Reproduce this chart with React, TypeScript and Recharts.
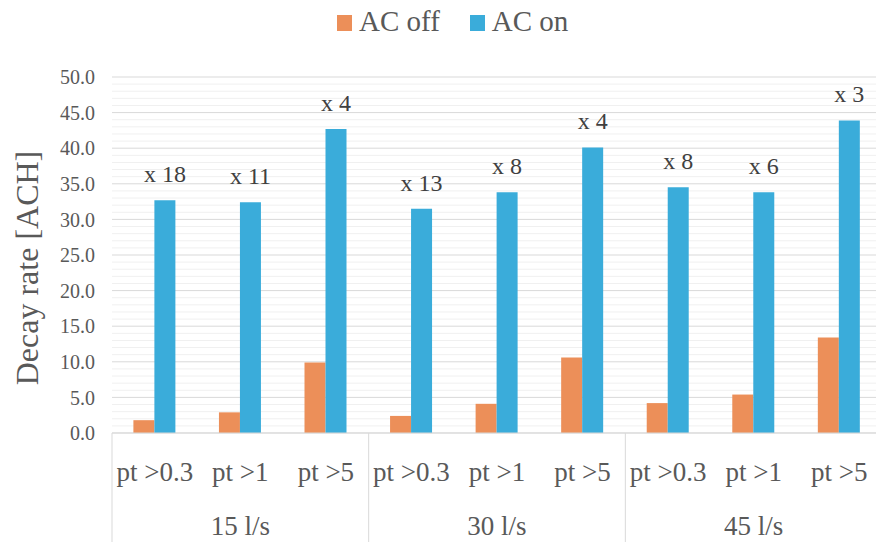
import { BarChart, Bar, XAxis, YAxis, CartesianGrid, Legend, LabelList } from 'recharts';

const flowRates = ['15 l/s', '30 l/s', '45 l/s'];
const particleSizes = ['pt >0.3', 'pt >1', 'pt >5'];

// decay rates in air changes per hour, grouped by flow rate then particle size
const acOff = [1.8, 2.9, 9.9, 2.4, 4.1, 10.6, 4.2, 5.4, 13.4];
const acOn = [32.7, 32.4, 42.7, 31.5, 33.8, 40.1, 34.5, 33.8, 43.9];
const increaseLabels = ['x 18', 'x 11', 'x 4', 'x 13', 'x 8', 'x 4', 'x 8', 'x 6', 'x 3'];

const yTicks = [0, 5, 10, 15, 20, 25, 30, 35, 40, 45, 50];
const minorLines = Array.from({ length: 51 }, (_, i) => i).filter((v) => v % 5 !== 0);

const OFF_COLOR = '#EC8F59';
const ON_COLOR = '#3AACDA';
const FONT = '"Liberation Serif", "Times New Roman", serif';

const data = acOff.map((off, i) => ({
  size: particleSizes[i % particleSizes.length],
  flow: flowRates[Math.floor(i / particleSizes.length)],
  off,
  on: acOn[i],
  ratio: increaseLabels[i],
}));

const GroupedTick = (props: any) => {
  const { x, y, payload, index } = props;
  const half = payload?.offset ?? 42.8;
  const pos = index % particleSizes.length;
  const last = index === data.length - 1;
  return (
    <g>
      {pos === 0 && <line x1={x - half} x2={x - half} y1={y} y2={y + 109} stroke="#d9d9d9" />}
      {last && <line x1={x + half} x2={x + half} y1={y} y2={y + 109} stroke="#d9d9d9" />}
      <text x={x} y={y + 48} textAnchor="middle" fontSize={27} fill="#595959" fontFamily={FONT}>
        {payload.value}
      </text>
      {pos === 1 && (
        <text x={x} y={y + 102} textAnchor="middle" fontSize={27} fill="#595959" fontFamily={FONT}>
          {data[index].flow}
        </text>
      )}
    </g>
  );
};

const RatioLabel = (props: any) => {
  const { x, y, width, value } = props;
  return (
    <text x={x + width / 2} y={y - 18} textAnchor="middle" fontSize={24} fill="#404040" fontFamily={FONT}>
      {value}
    </text>
  );
};

const LegendContent = () => (
  <div style={{ display: 'flex', alignItems: 'center', fontFamily: FONT, fontSize: 29, color: '#595959', whiteSpace: 'nowrap' }}>
    {[
      { name: 'AC off', color: OFF_COLOR },
      { name: 'AC on', color: ON_COLOR },
    ].map((item) => (
      <div key={item.name} style={{ display: 'flex', alignItems: 'center', marginRight: 30 }}>
        <span style={{ width: 15, height: 16, background: item.color, display: 'inline-block', marginRight: 7, marginTop: 3 }} />
        <span>{item.name}</span>
      </div>
    ))}
  </div>
);

const YTitle = (props: any) => {
  const { viewBox } = props;
  const cx = viewBox.x + 27;
  const cy = viewBox.y + viewBox.height / 2 + 13;
  return (
    <text
      x={cx}
      y={cy}
      transform={`rotate(-90, ${cx}, ${cy})`}
      textAnchor="middle"
      dominantBaseline="central"
      fontSize={32}
      fill="#595959"
      fontFamily={FONT}
    >
      Decay rate [ACH]
    </text>
  );
};

export default function App() {
  return (
    <div style={{ position: 'absolute', left: 0, top: 0, background: '#fff' }}>
      <BarChart
        width={876}
        height={542}
        data={data}
        margin={{ top: 77, right: -6, bottom: 0, left: 0 }}
        barCategoryGap="25%"
        barGap={0}
      >
        <CartesianGrid vertical={false} horizontalValues={minorLines} stroke="#f0f0f0" />
        <CartesianGrid vertical={false} stroke="#d9d9d9" />
        <XAxis
          dataKey="size"
          interval={0}
          height={109}
          tickSize={0}
          tickMargin={0}
          tickLine={false}
          axisLine={{ stroke: '#d9d9d9' }}
          tick={<GroupedTick />}
        />
        <YAxis
          width={112}
          domain={[0, 50]}
          ticks={yTicks}
          interval={0}
          axisLine={false}
          tickLine={false}
          tickMargin={11}
          tickFormatter={(v: number) => v.toFixed(1)}
          tick={{ fontSize: 20, fill: '#595959', fontFamily: FONT }}
          label={<YTitle />}
        />
        <Legend
          verticalAlign="middle"
          align="center"
          wrapperStyle={{ top: 5, left: 337, width: 'auto' }}
          content={<LegendContent />}
        />
        <Bar dataKey="off" name="AC off" fill={OFF_COLOR} isAnimationActive={false} />
        <Bar dataKey="on" name="AC on" fill={ON_COLOR} isAnimationActive={false}>
          <LabelList dataKey="ratio" content={<RatioLabel />} />
        </Bar>
      </BarChart>
    </div>
  );
}
